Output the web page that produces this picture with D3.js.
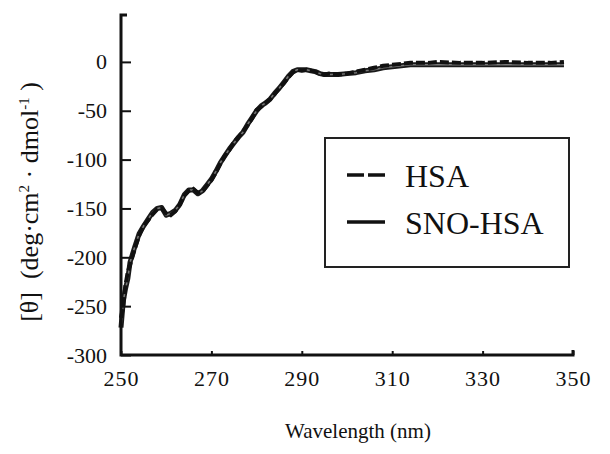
<!DOCTYPE html>
<html><head><meta charset="utf-8">
<script src="https://cdn.jsdelivr.net/npm/d3@7"></script>
<style>html,body{margin:0;padding:0;background:#fff;}svg{display:block;}</style>
</head><body>
<svg id="c" width="610" height="454"></svg>
<script>
const wavelength = [250,250.5,251,251.5,252,253,254,255,256,257,258,259,260,261,262,263,264,265,266,267,268,269,270,271,272,273,274,275,276,277,278,279,280,281,282,283,284,285,286,287,288,289,290,291,292,293,294,295,296,298,300,302,304,306,308,310,312,314,316,318,320,325,330,335,340,345,348];
const sno = [-272,-245,-232,-222,-205,-190,-176,-168,-161,-154,-150,-149,-157,-155,-152,-146,-136,-131,-131,-135,-132,-126,-120,-112,-103,-96,-89,-83,-77,-72,-64,-57,-50,-45,-42,-38,-32,-27,-21,-15,-10,-8,-8,-8,-9,-10,-12,-13,-13,-13,-12,-11,-9,-8,-6,-5,-4,-3,-3,-3,-3,-3,-3,-3,-3,-3,-3];
const hsa = [-262,-250,-228,-215,-208,-192,-178,-168,-162,-156,-151,-150,-155,-157,-153,-146,-137,-132,-130,-134,-133,-127,-121,-113,-104,-96,-90,-82,-77,-71,-65,-58,-49,-46,-42,-38,-33,-27,-22,-16,-11,-8,-9,-8,-9,-10,-12,-13,-12,-13,-12,-10,-8,-6,-4,-3,-2,-1,-1,-1,0,-1,-1,0,-1,-1,0];
const xTicks = [250,270,290,310,330,350];
const yTicks = [0,-50,-100,-150,-200,-250,-300];
const seriesNames = ["HSA","SNO-HSA"];

const svg = d3.select("#c");
const FF = '"Liberation Serif"';
const x = d3.scaleLinear().domain([250,350]).range([121,573]);
const y = d3.scaleLinear().domain([-300,48]).range([355,15]);

// curves
const line = d3.line().x((d,i)=>x(wavelength[i])).y(d=>y(d)).curve(d3.curveLinear);
svg.append("path").attr("d", line(sno)).attr("fill","none").attr("stroke","#1a1a1a").attr("stroke-width",5).attr("stroke-linejoin","round");
svg.append("path").attr("d", line(sno)).attr("fill","none").attr("stroke","#777").attr("stroke-width",1.5).attr("stroke-linejoin","round");
svg.append("path").attr("d", line(hsa)).attr("fill","none").attr("stroke","#111").attr("stroke-width",4).attr("stroke-dasharray","9,3");

// axes
const yAxis = d3.axisLeft(y).tickValues(yTicks).tickSize(-10).tickPadding(14).tickFormat(d => String(d));
const gy = svg.append("g").attr("transform","translate(121,0)").call(yAxis);
gy.select(".domain").remove();
gy.selectAll(".tick line").attr("stroke","#111").attr("stroke-width",2);
gy.selectAll(".tick text").style("font-family",FF).attr("font-size",22).attr("fill","#111").attr("dy","0.32em");

const xAxis = d3.axisBottom(x).tickValues(xTicks).tickSize(-4).tickPadding(15).tickFormat(d => String(d));
const gx = svg.append("g").attr("transform","translate(0,355)").call(xAxis);
gx.select(".domain").remove();
gx.selectAll(".tick line").attr("stroke","#111").attr("stroke-width",2);
gx.selectAll(".tick text").style("font-family",FF).attr("font-size",22).attr("fill","#111").style("letter-spacing","1px");

// axis frame lines
svg.append("path").attr("d", `M${x(250)+6},${y(48)}H${x(250)}V${y(-300)}H${x(350)}V${y(-300)-5}`)
  .attr("fill","none").attr("stroke","#111").attr("stroke-width",3);

// axis titles
svg.append("text").attr("x",(x(250)+x(350))/2+11).attr("y",438).attr("text-anchor","middle")
  .style("font-family",FF).attr("font-size",21).attr("fill","#111").text("Wavelength (nm)");
const yt = svg.append("text").attr("transform","translate(38,202) rotate(-90)").attr("text-anchor","middle")
  .style("font-family",FF).attr("font-size",26).attr("fill","#111").attr("xml:space","preserve");
yt.append("tspan").text("[θ]  (deg·cm");
yt.append("tspan").attr("dy",-9).attr("font-size",15).text("2");
yt.append("tspan").attr("dy",9).text(" · dmol");
yt.append("tspan").attr("dy",-9).attr("font-size",15).text("-1");
yt.append("tspan").attr("dy",9).text(" )");

// legend
const lg = svg.append("g");
lg.append("rect").attr("x",325).attr("y",138).attr("width",244).attr("height",129)
  .attr("fill","#fff").attr("stroke","#222").attr("stroke-width",2);
const legY = [175,222];
lg.selectAll("line.l").data(seriesNames).enter().append("line")
  .attr("x1",347).attr("x2",385).attr("y1",(d,i)=>legY[i]).attr("y2",(d,i)=>legY[i])
  .attr("stroke","#111").attr("stroke-width",3.5)
  .attr("stroke-dasharray",(d,i)=> i===0 ? "17,4" : null);
lg.selectAll("text").data(seriesNames).enter().append("text")
  .attr("x",405).attr("y",(d,i)=>legY[i]+12).style("font-family",FF).attr("font-size",32).attr("fill","#111").text(d=>d);
</script>
</body></html>
